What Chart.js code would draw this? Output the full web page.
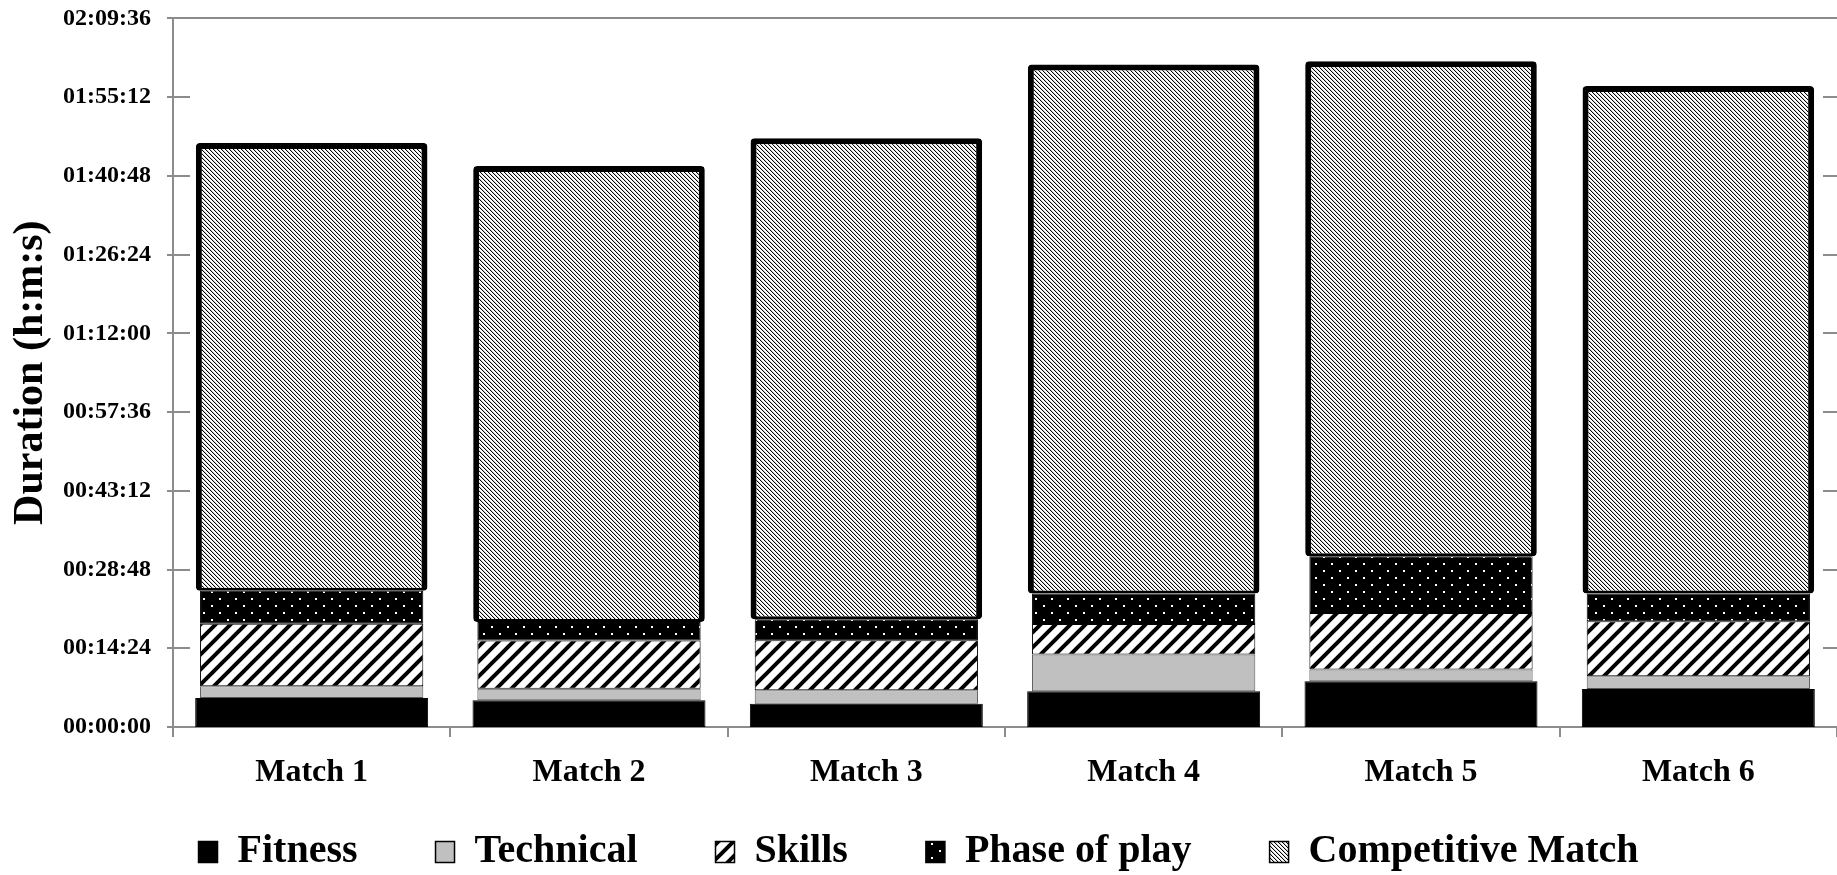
<!DOCTYPE html>
<html>
<head>
<meta charset="utf-8">
<script src="https://cdn.jsdelivr.net/npm/chart.js@4"></script>
<style>
  html, body { margin: 0; padding: 0; background: #fff; }
  #wrap { width: 1837px; height: 875px; }
</style>
</head>
<body>
<div id="wrap"><canvas id="duration" width="1837" height="875"></canvas></div>
<script>
// durations in seconds
var matches = ['Match 1', 'Match 2', 'Match 3', 'Match 4', 'Match 5', 'Match 6'];
var fitness = [318, 293, 256, 392, 502, 417];
var technical = [128, 128, 146, 403, 128, 139];
var skills = [688, 527, 549, 336, 621, 604];
var phaseOfPlay = [362, 205, 231, 333, 622, 304];
var competitive = [4914, 5003, 5280, 5807, 5434, 5569];
// y ticks every 00:14:24 up to 02:09:36
var tickStep = 864;
var tickMax = 7776;

var canvas = document.getElementById('duration');
var ctx = canvas.getContext('2d');
var AXIS_GREY = '#8c8c8c';
var FONT = "'Liberation Serif', 'Times New Roman', serif";

function tile(w, h, paint) {
  var c = document.createElement('canvas');
  c.width = w; c.height = h;
  paint(c.getContext('2d'));
  return ctx.createPattern(c, 'repeat');
}

var skillsFill = tile(15, 15, function (g) {
  g.fillStyle = '#fff';
  g.fillRect(0, 0, 15, 15);
  g.strokeStyle = '#000';
  g.lineWidth = 4;
  g.beginPath();
  g.moveTo(-2, 17); g.lineTo(17, -2);
  g.moveTo(-2, 2); g.lineTo(2, -2);
  g.moveTo(13, 17); g.lineTo(17, 13);
  g.stroke();
});

var phaseFill = tile(16, 14, function (g) {
  g.fillStyle = '#000';
  g.fillRect(0, 0, 16, 14);
  g.fillStyle = '#fff';
  g.fillRect(3, 3, 2, 2);
  g.fillRect(11, 10, 2, 2);
});

var matchFill = tile(4, 4, function (g) {
  g.fillStyle = '#fff';
  g.fillRect(0, 0, 4, 4);
  for (var r = 0; r < 4; r++) {
    g.fillStyle = '#000';
    g.fillRect(r, r, 1, 1);
    g.fillStyle = '#d0d0d0';
    g.fillRect((r + 1) % 4, r, 1, 1);
  }
});

function hms(v) {
  var h = Math.floor(v / 3600), m = Math.floor((v % 3600) / 60), s = Math.round(v % 60);
  function p(n) { return (n < 10 ? '0' : '') + n; }
  return p(h) + ':' + p(m) + ':' + p(s);
}

// cross tick marks on the left, inside ticks on the right and the top frame line
var frame = {
  id: 'frame',
  afterDraw: function (chart) {
    var y = chart.scales.y, a = chart.chartArea, c = chart.ctx;
    c.save();
    c.strokeStyle = AXIS_GREY;
    c.lineWidth = 2;
    c.beginPath();
    y.ticks.forEach(function (t) {
      var py = Math.round(y.getPixelForValue(t.value));
      c.moveTo(a.left - 6, py); c.lineTo(a.left + 17, py);
      c.moveTo(a.right - 14, py); c.lineTo(a.right, py);
    });
    var top = Math.round(y.getPixelForValue(tickMax));
    c.moveTo(a.left, top); c.lineTo(a.right, top);
    c.stroke();
    c.restore();
  }
};

new Chart(ctx, {
  type: 'bar',
  data: {
    labels: matches,
    datasets: [
      { label: 'Fitness', data: fitness, backgroundColor: '#000', borderColor: '#000',
        borderWidth: 1, barPercentage: 0.84 },
      { label: 'Technical', data: technical, backgroundColor: '#c0c0c0', borderColor: '#555',
        borderWidth: 1, barPercentage: 0.805 },
      { label: 'Skills', data: skills, backgroundColor: skillsFill, borderColor: '#000',
        borderWidth: 1, barPercentage: 0.805 },
      { label: 'Phase of play', data: phaseOfPlay, backgroundColor: phaseFill, borderColor: '#000',
        borderWidth: 1, barPercentage: 0.805 },
      { label: 'Competitive Match', data: competitive, backgroundColor: matchFill, borderColor: '#000',
        borderWidth: { top: 6, left: 6, right: 6, bottom: 3 }, borderRadius: 4, barPercentage: 0.835 }
    ]
  },
  options: {
    responsive: false,
    animation: false,
    layout: { padding: { top: 0, right: 0, bottom: -7, left: 0 } },
    datasets: { bar: { categoryPercentage: 1, borderSkipped: false } },
    scales: {
      x: {
        stacked: true,
        grid: { drawOnChartArea: false, color: AXIS_GREY, lineWidth: 2, tickLength: 10 },
        border: { color: AXIS_GREY, width: 2 },
        ticks: { color: '#000', padding: 17, font: { family: FONT, size: 32, weight: 'bold' } },
        afterFit: function (s) {
          s.height = 27;
          // labels hang below the short axis box, so do not clip them to it
          s._computeLabelArea = function () { return null; };
        }
      },
      y: {
        stacked: true,
        min: 0,
        max: tickMax,
        // grid hidden, tick length only used as the gap before the labels
        grid: { display: false, drawTicks: true, tickLength: 18 },
        border: { color: AXIS_GREY, width: 2 },
        ticks: {
          stepSize: tickStep,
          padding: 4,
          color: '#000',
          font: { family: FONT, size: 24, weight: 'bold' },
          callback: function (v) { return hms(v); }
        },
        title: {
          display: true,
          text: 'Duration (h:m:s)',
          color: '#000',
          padding: { top: 6, bottom: 0 },
          font: { family: FONT, size: 42, weight: 'bold' }
        },
        afterFit: function (s) { s.width = 173; }
      }
    },
    plugins: {
      tooltip: { enabled: false },
      legend: {
        position: 'bottom',
        labels: {
          color: '#000',
          boxWidth: 19,
          boxHeight: 21,
          padding: 78,
          font: { family: FONT, size: 40, weight: 'bold' },
          generateLabels: function (chart) {
            return Chart.defaults.plugins.legend.labels.generateLabels(chart).map(function (it) {
              it.lineWidth = 1.5;
              it.strokeStyle = '#000';
              return it;
            });
          }
        }
      }
    }
  },
  plugins: [frame]
});
</script>
</body>
</html>
